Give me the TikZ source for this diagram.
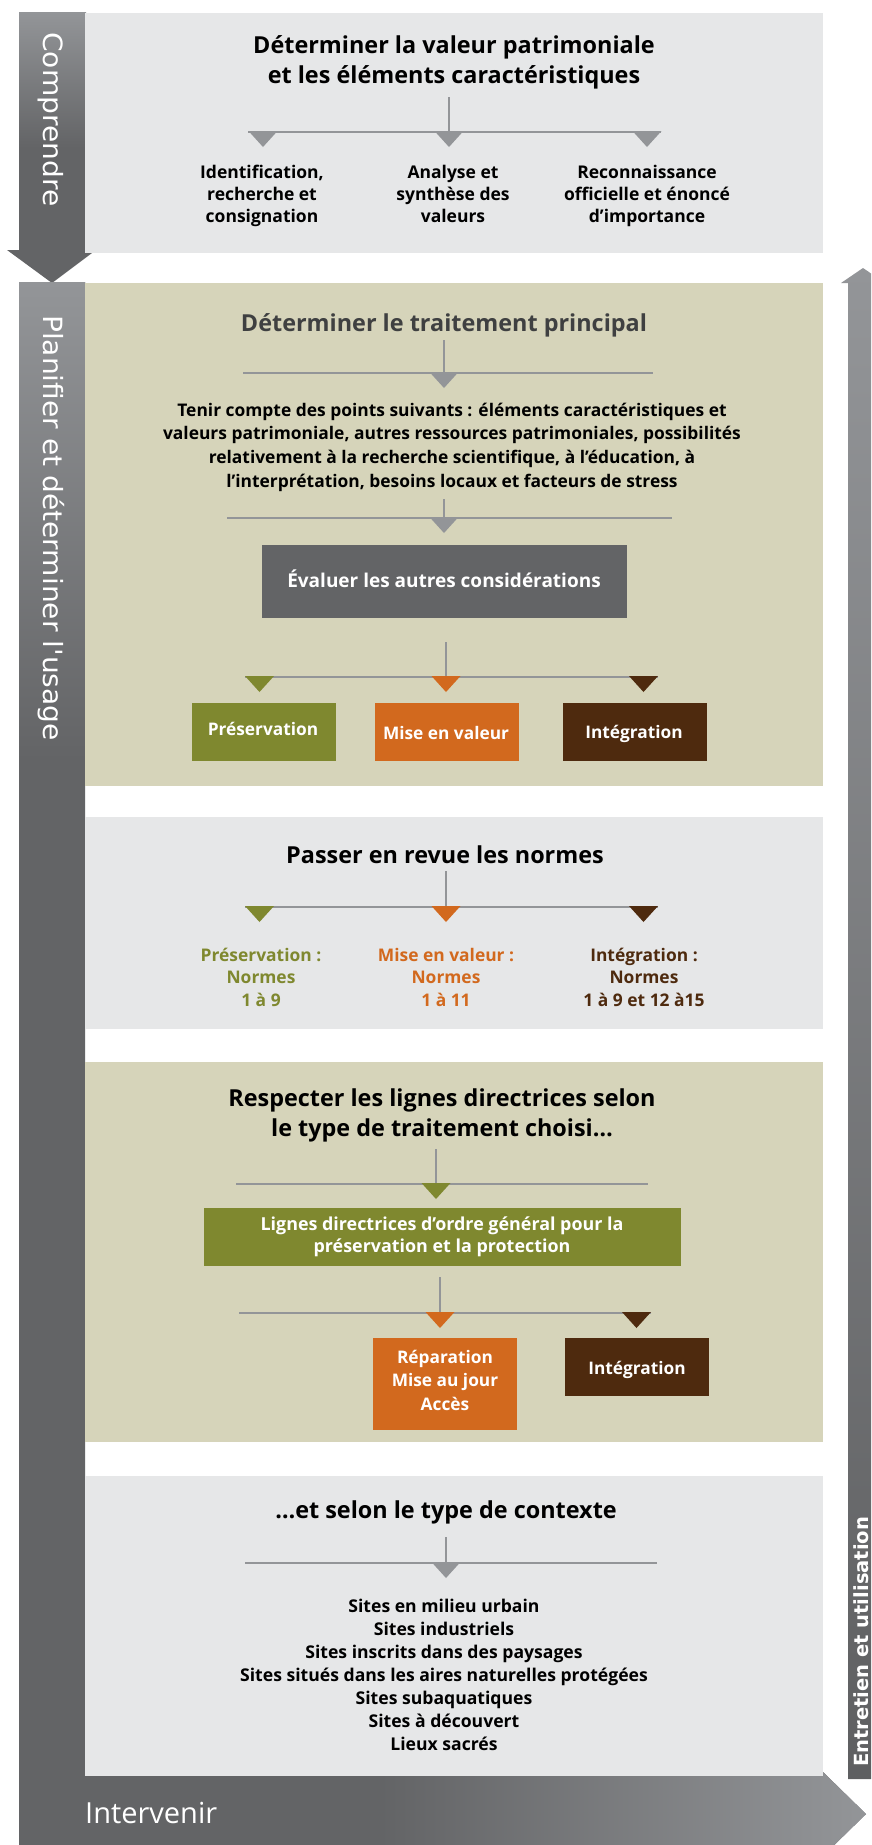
\documentclass[tikz,border=0pt]{standalone}
\usepackage{fontspec}
\setmainfont{Open Sans}
\newfontfamily\sidefont[FakeStretch=1.06]{DejaVu Sans}
\newfontfamily\sideboldfont{DejaVu Sans}
\definecolor{lgray}{HTML}{E6E7E8}
\definecolor{beige}{HTML}{D6D4BA}
\definecolor{dgray}{HTML}{636466}
\definecolor{mgray}{HTML}{939598}
\definecolor{ogreen}{HTML}{7F882F}
\definecolor{oorange}{HTML}{D2691E}
\definecolor{obrown}{HTML}{4E2A0E}
\definecolor{ttgray}{HTML}{3F4041}
\newcommand\stk[1]{\vtop{\halign{\hfil##\hfil\cr#1\crcr}}}
\begin{document}
\begin{tikzpicture}[x=1pt,y=-1pt,
  conn/.style={draw=mgray,line width=2pt},
  pics/tri/.style={code={\fill[#1] (-14.5,-1) -- (14.5,-1) -- (0,15) -- cycle;}},
  panel/.style={anchor=north west,inner sep=0pt,outer sep=0pt},
  ttl/.style={anchor=base,inner sep=0pt,font=\fontsize{23.4}{30.5}\selectfont\bfseries},
  sub/.style={anchor=base,inner sep=0pt,font=\fontsize{17.5}{22}\selectfont\bfseries},
  para/.style={anchor=base,inner sep=0pt,font=\fontsize{17.4}{23.7}\selectfont\bfseries},
  btxt/.style={anchor=base,inner sep=0pt,text=white,font=\fontsize{17.3}{23.5}\selectfont\bfseries},
  side/.style={inner sep=0pt,text=white,font=\sidefont\fontsize{26.5}{30}\selectfont}
]
\useasboundingbox (0,0) rectangle (871,1845);
\clip (0,0) rectangle (871,1845);

% ---------- side bars ----------
\path[top color=mgray,bottom color=dgray,middle color=dgray]
  (19,12) -- (86,12) -- (86,250) -- (96,250) -- (52,283) -- (7,250) -- (19,250) -- cycle;
\fill[dgray] (19,282) -- (85,282) -- (85,1776) -- (823,1776) -- (823,1772) -- (866,1814) -- (823,1856) -- (19,1856) -- cycle;
\path[top color=mgray,bottom color=dgray] (19,282) rectangle (85,760);
\path[left color=dgray,right color=mgray] (380,1776) -- (823,1776) -- (823,1772) -- (866,1814) -- (823,1856) -- (380,1856) -- cycle;
\path[top color=mgray,middle color=mgray!85!dgray,bottom color=dgray!95!black]
  (863,268) -- (885,283) -- (878,283) -- (878,1779) -- (848,1779) -- (848,283) -- (841,283) -- cycle;

\node[side,rotate=-90,anchor=base west] (comp) at (43,32) {Comprendre};
\node[side,rotate=-90,anchor=base west] (plan) at (43,315) {Planifier et déterminer l'usage};
\node[inner sep=0pt,text=white,font=\sideboldfont\fontsize{19.5}{22}\selectfont\bfseries,rotate=90,anchor=base west] (entr) at (868,1767) {Entretien et utilisation};
\node[inner sep=0pt,text=white,font=\fontsize{29}{32}\selectfont,anchor=base west] (interv) at (85,1823) {Intervenir};

% ---------- panels ----------
\node[panel,fill=lgray,minimum width=738pt,minimum height=240pt] (p1) at (85,13) {};
\node[panel,fill=beige,minimum width=738pt,minimum height=503pt] (p2) at (85,283) {};
\node[panel,fill=lgray,minimum width=738pt,minimum height=212pt] (p3) at (85,817) {};
\node[panel,fill=beige,minimum width=738pt,minimum height=380pt] (p4) at (85,1062) {};
\node[panel,fill=lgray,minimum width=738pt,minimum height=300pt] (p5) at (85,1476) {};

% ---------- section 1 ----------
\node[ttl] (t1) at (454,53) {\stk{Déterminer la valeur patrimoniale\cr et les éléments caractéristiques}};
\coordinate (h1) at (449,97); \coordinate (h1b) at (449,132);
\coordinate (l1a) at (248,132); \coordinate (l1b) at (661,132);
\draw[conn] (h1) -- (h1b);
\draw[conn] (l1a) -- (l1b);
\pic at (263,132) {tri=mgray};
\pic at (449,132) {tri=mgray};
\pic at (647,132) {tri=mgray};
\node[sub] (s1a) at (262,178) {\stk{Identification,\cr recherche et\cr consignation}};
\node[sub] (s1b) at (453,178) {\stk{Analyse et\cr synthèse des\cr valeurs}};
\node[sub] (s1c) at (647,178) {\stk{Reconnaissance\cr officielle et énoncé\cr d’importance}};

% ---------- section 2 ----------
\node[ttl,text=ttgray] (t2) at (444,331) {Déterminer le traitement principal};
\coordinate (h2) at (444,340); \coordinate (h2b) at (444,373);
\coordinate (l2a) at (243,373); \coordinate (l2b) at (653,373);
\draw[conn] (h2) -- (h2b);
\draw[conn] (l2a) -- (l2b);
\pic at (444,373) {tri=mgray};
\node[para] (cons) at (452,416) {\stk{Tenir compte des points suivants : éléments caractéristiques et\cr valeurs patrimoniale, autres ressources patrimoniales, possibilités\cr relativement à la recherche scientifique, à l’éducation, à\cr l’interprétation, besoins locaux et facteurs de stress}};
\coordinate (h3) at (444,499); \coordinate (h3b) at (444,518);
\coordinate (l3a) at (227,518); \coordinate (l3b) at (672,518);
\draw[conn] (h3) -- (h3b);
\draw[conn] (l3a) -- (l3b);
\pic at (444,518) {tri=mgray};
\node[panel,fill=dgray,minimum width=365pt,minimum height=73pt] (evalbox) at (262,545) {};
\node[btxt,font=\fontsize{19}{23}\selectfont\bfseries] (eval) at (444,587) {Évaluer les autres considérations};
\coordinate (h4) at (446,642); \coordinate (h4b) at (446,677);
\coordinate (l4a) at (245,677); \coordinate (l4b) at (658,677);
\draw[conn] (h4) -- (h4b);
\draw[conn] (l4a) -- (l4b);
\pic at (259.5,677) {tri=ogreen};
\pic at (446,677) {tri=oorange};
\pic at (643.5,677) {tri=obrown};
\node[panel,fill=ogreen,minimum width=144pt,minimum height=58pt] (bpres) at (192,703) {};
\node[panel,fill=oorange,minimum width=144pt,minimum height=58pt] (bmise) at (375,703) {};
\node[panel,fill=obrown,minimum width=144pt,minimum height=58pt] (binte) at (563,703) {};
\node[btxt] (tpres) at (263,735) {Préservation};
\node[btxt] (tmise) at (446,739) {Mise en valeur};
\node[btxt] (tinte) at (634,738) {Intégration};

% ---------- section 3 ----------
\node[ttl] (t3) at (445,863) {Passer en revue les normes};
\coordinate (h5) at (446,871); \coordinate (h5b) at (446,907);
\coordinate (l5a) at (245,907); \coordinate (l5b) at (658,907);
\draw[conn] (h5) -- (h5b);
\draw[conn] (l5a) -- (l5b);
\pic at (259.5,907) {tri=ogreen};
\pic at (446,907) {tri=oorange};
\pic at (643.5,907) {tri=obrown};
\node[sub,text=ogreen,font=\fontsize{17.4}{22.5}\selectfont\bfseries] (npres) at (261,961) {\stk{Préservation :\cr Normes\cr 1 à 9}};
\node[sub,text=oorange,font=\fontsize{17.4}{22.5}\selectfont\bfseries] (nmise) at (446,961) {\stk{Mise en valeur :\cr Normes\cr 1 à 11}};
\node[sub,text=obrown,font=\fontsize{17.4}{22.5}\selectfont\bfseries] (ninte) at (644,961) {\stk{Intégration :\cr Normes\cr 1 à 9 et 12 à15}};

% ---------- section 4 ----------
\node[ttl] (t4) at (442,1106) {\stk{Respecter les lignes directrices selon\cr le type de traitement choisi…}};
\coordinate (h6) at (436,1149); \coordinate (h6b) at (436,1184);
\coordinate (l6a) at (236,1184); \coordinate (l6b) at (648,1184);
\draw[conn] (h6) -- (h6b);
\draw[conn] (l6a) -- (l6b);
\pic at (436,1184) {tri=ogreen};
\node[panel,fill=ogreen,minimum width=477pt,minimum height=58pt] (bgen) at (204,1208) {};
\node[btxt,font=\fontsize{17.9}{22}\selectfont\bfseries] (tgen) at (442,1230) {\stk{Lignes directrices d’ordre général pour la\cr préservation et la protection}};
\coordinate (h7) at (440,1277); \coordinate (h7b) at (440,1313);
\coordinate (l7a) at (239,1313); \coordinate (l7b) at (651,1313);
\draw[conn] (h7) -- (h7b);
\draw[conn] (l7a) -- (l7b);
\pic at (440,1313) {tri=oorange};
\pic at (636.5,1313) {tri=obrown};
\node[panel,fill=oorange,minimum width=144pt,minimum height=92pt] (brep) at (373,1338) {};
\node[panel,fill=obrown,minimum width=144pt,minimum height=58pt] (bint2) at (565,1338) {};
\node[btxt] (trep) at (445,1363) {\stk{Réparation\cr Mise au jour\cr Accès}};
\node[btxt] (tint2) at (637,1374) {Intégration};

% ---------- section 5 ----------
\node[ttl] (t5) at (446,1518) {…et selon le type de contexte};
\coordinate (h8) at (446,1537); \coordinate (h8b) at (446,1563);
\coordinate (l8a) at (245,1563); \coordinate (l8b) at (657,1563);
\draw[conn] (h8) -- (h8b);
\draw[conn] (l8a) -- (l8b);
\pic at (446,1563) {tri=mgray};
\node[para,font=\fontsize{17.6}{23}\selectfont\bfseries] (sites) at (444,1612) {\stk{Sites en milieu urbain\cr Sites industriels\cr Sites inscrits dans des paysages\cr Sites situés dans les aires naturelles protégées\cr Sites subaquatiques\cr Sites à découvert\cr Lieux sacrés}};
\end{tikzpicture}
\end{document}
